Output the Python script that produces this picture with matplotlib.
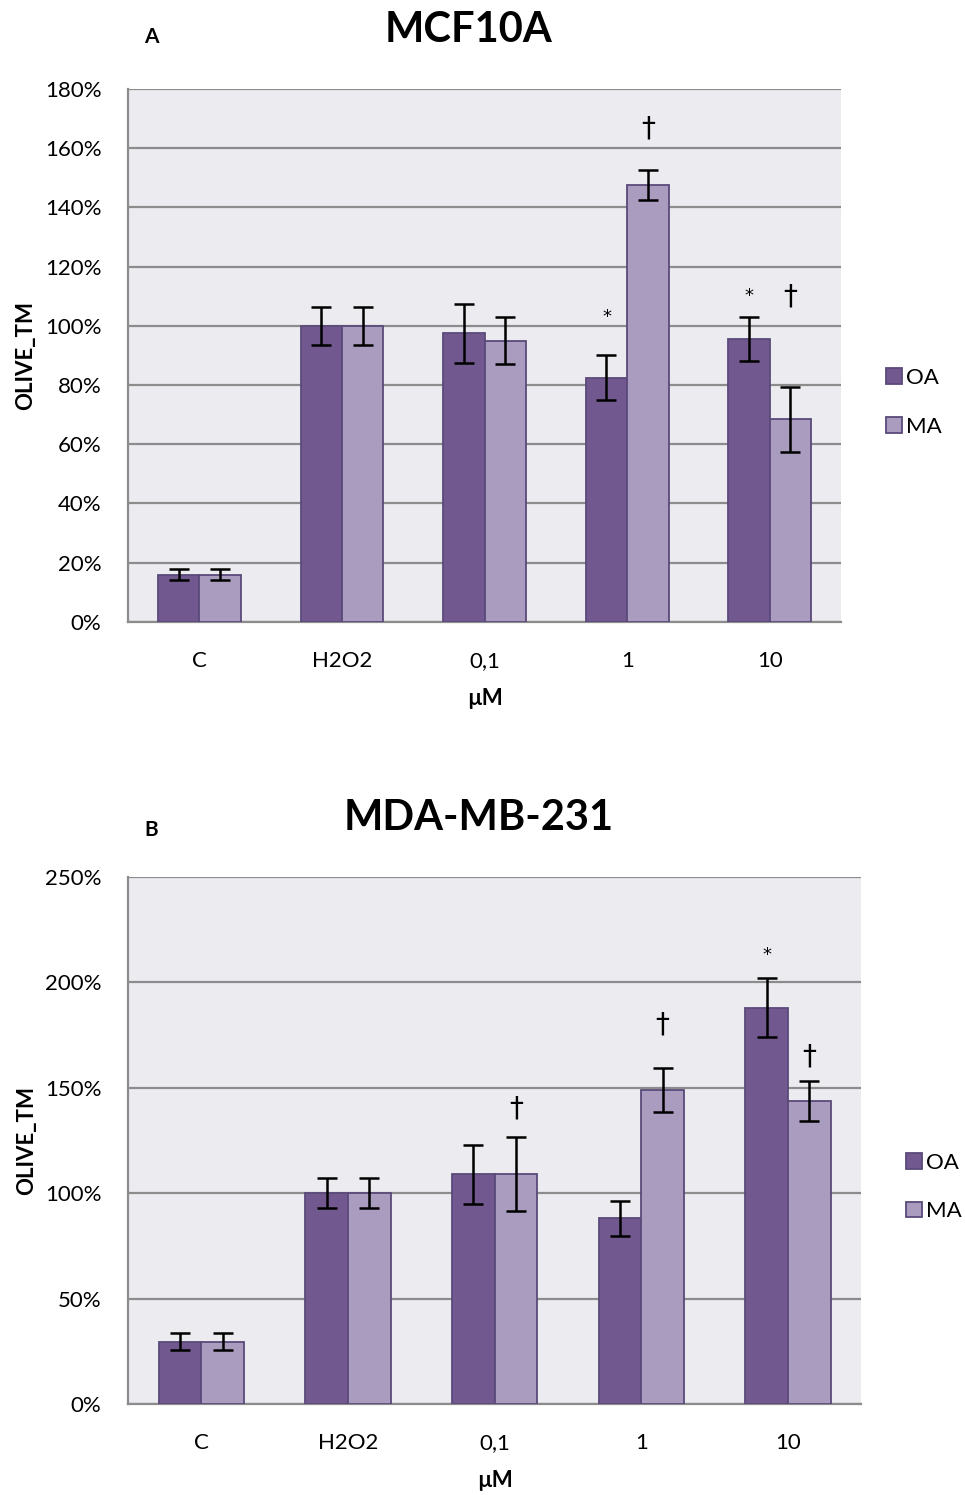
import numpy as np
import matplotlib
matplotlib.use('Agg')
import matplotlib.pyplot as plt
from matplotlib.ticker import FuncFormatter

plt.rcParams['font.family'] = ['Lato', 'DejaVu Sans']

categories = ['C', 'H2O2', '0,1', '1', '10']

# MCF10A
a_oa = [16, 100, 97.5, 82.5, 95.5]
a_oa_err = [2, 6.5, 10, 7.5, 7.5]
a_ma = [16, 100, 95, 147.5, 68.5]
a_ma_err = [2, 6.5, 8, 5, 11]
# (category index, series, y, symbol)
a_marks = [(3, 0, 103, '*'), (3, 1, 166.5, '†'), (4, 0, 110, '*'), (4, 1, 110, '†')]

# MDA-MB-231
b_oa = [29.5, 100, 109, 88, 188]
b_oa_err = [4, 7, 14, 8.5, 14]
b_ma = [29.5, 100, 109, 149, 143.5]
b_ma_err = [4, 7, 17.5, 10.5, 9.5]
b_marks = [(2, 1, 140, '†'), (3, 1, 180, '†'), (4, 0, 213, '*'), (4, 1, 165, '†')]

OA_COLOR = '#71598f'
MA_COLOR = '#aa9cbf'
EDGE = '#5a4a7a'
BG = '#ecebf0'
GRID = '#8c8c8c'

fig = plt.figure(figsize=(9.65, 14.95), dpi=100)


def draw_panel(rect, oa, oa_err, ma, ma_err, marks, ymax, ystep, title, letter,
               title_x, title_y, letter_y, leg_y):
    ax = fig.add_axes(rect)
    ax.set_facecolor(BG)
    x = np.arange(len(categories))
    w = 0.29
    err_kw = dict(ecolor='black', elinewidth=1.8, capsize=7, capthick=1.8)
    b1 = ax.bar(x - w / 2, oa, w, color=OA_COLOR, edgecolor=EDGE, linewidth=1.3,
                yerr=oa_err, error_kw=err_kw, label='OA', zorder=3)
    b2 = ax.bar(x + w / 2, ma, w, color=MA_COLOR, edgecolor=EDGE, linewidth=1.3,
                yerr=ma_err, error_kw=err_kw, label='MA', zorder=3)
    for ci, s, y, sym in marks:
        xp = ci - w / 2 if s == 0 else ci + w / 2
        fs = 13 if sym == '*' else 20
        ax.text(xp, y, sym, ha='center', va='center', fontsize=fs,
                family=['DejaVu Sans'], zorder=4)

    ax.set_xlim(-0.5, len(categories) - 0.5)
    ax.set_ylim(0, ymax)
    ax.set_yticks(np.arange(0, ymax + 1, ystep))
    ax.yaxis.set_major_formatter(FuncFormatter(lambda v, p: f'{v:.0f}%'))
    ax.set_xticks(x)
    ax.set_xticklabels(categories)
    ax.tick_params(axis='both', length=0, labelsize=16)
    ax.tick_params(axis='y', pad=19)
    ax.tick_params(axis='x', pad=21)
    ax.grid(axis='y', color=GRID, linewidth=1.6, zorder=0)
    ax.set_axisbelow(True)
    for side in ['top', 'right']:
        ax.spines[side].set_visible(False)
    for side in ['left', 'bottom']:
        ax.spines[side].set_color(GRID)
        ax.spines[side].set_linewidth(1.6)
    ax.set_xlabel('µM', fontsize=16, fontweight='bold', labelpad=12)
    ax.set_ylabel('OLIVE_TM', fontsize=16, fontweight='bold', labelpad=6)

    fig.text(title_x, title_y, title, ha='center', va='center',
             fontsize=30, fontweight='bold')
    fig.text(0.157, letter_y, letter, ha='center', va='center',
             fontsize=15, fontweight='bold')
    fig.legend(handles=[b1, b2], labels=['OA', 'MA'], loc='center left',
               bbox_to_anchor=(rect[0] + rect[2] + 0.035, leg_y), frameon=False,
               fontsize=16, handlelength=0.7, handleheight=0.7,
               handletextpad=0.2, labelspacing=1.3, borderpad=0)
    return ax


draw_panel([0.1326, 0.584, 0.739, 0.3565], a_oa, a_oa_err, a_ma, a_ma_err, a_marks,
           180, 20, 'MCF10A', 'A', 0.485, 0.980, 0.975, 0.731)
draw_panel([0.1326, 0.0609, 0.760, 0.3525], b_oa, b_oa_err, b_ma, b_ma_err, b_marks,
           250, 50, 'MDA-MB-231', 'B', 0.496, 0.453, 0.445, 0.206)

fig.savefig('out.png', dpi=100)
